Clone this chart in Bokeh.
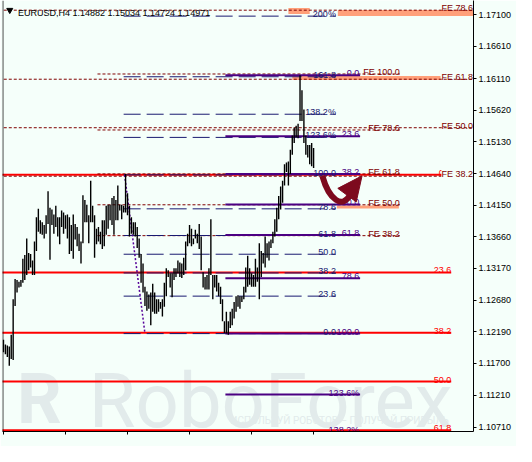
from bokeh.plotting import figure
from bokeh.models import Range1d, LinearAxis, FixedTicker, PrintfTickFormatter, Label, Span
from bokeh.embed import file_html
from bokeh.resources import INLINE
from bokeh.core.properties import value

# ---------------- data ----------------
symbol = "EURUSD,H4"
last_open = 1.14882
last_close = 1.14971

high = [1.12067, 1.11993, 1.11978, 1.11963, 1.12142, 1.12694, 1.13007, 1.12992, 1.12962, 1.12992,
        1.13320, 1.13380, 1.13634, 1.13410, 1.13395, 1.13291, 1.13589, 1.13962, 1.14096, 1.13917,
        1.13887, 1.13843, 1.13992, 1.14365, 1.14111, 1.14081, 1.14007, 1.14141, 1.13962, 1.13962,
        1.14066, 1.14037, 1.13992, 1.14007, 1.13962, 1.13843, 1.14007, 1.13858, 1.13813, 1.13708,
        1.13589, 1.14305, 1.14231, 1.14156, 1.13992, 1.14529, 1.14141, 1.13992, 1.13783, 1.13813,
        1.13738, 1.13917, 1.13917, 1.14141, 1.14156, 1.14156, 1.14260, 1.14290, 1.14231, 1.14454,
        1.14156, 1.14156, 1.14141, 1.14633, 1.14335, 1.14141, 1.13962, 1.13887, 1.13887, 1.13813,
        1.13634, 1.13395, 1.13246, 1.12888, 1.12813, 1.12768, 1.12798, 1.12933, 1.12798, 1.12694,
        1.12694, 1.12649, 1.12694, 1.12948, 1.13171, 1.13141, 1.13097, 1.13097, 1.13171, 1.13171,
        1.13291, 1.13261, 1.13246, 1.13335, 1.13589, 1.13708, 1.13843, 1.13783, 1.13634, 1.13768,
        1.13708, 1.13858, 1.13664, 1.13112, 1.13037, 1.13067, 1.13171, 1.13932, 1.13067, 1.13067,
        1.13067, 1.12948, 1.12888, 1.12694, 1.12351, 1.12500, 1.12351, 1.12500, 1.12545, 1.12649,
        1.12739, 1.12753, 1.12739, 1.12739, 1.12888, 1.13186, 1.13365, 1.13171, 1.13097, 1.13067,
        1.13320, 1.13186, 1.13559, 1.13440, 1.13410, 1.13664, 1.13559, 1.13589, 1.13619, 1.13738,
        1.13932, 1.14111, 1.14290, 1.14439, 1.14529, 1.14783, 1.14812, 1.14827, 1.15006, 1.15230,
        1.15350, 1.15379, 1.15409, 1.16160, 1.15931, 1.15633, 1.15230, 1.15081, 1.15081, 1.15111,
        1.15034]

low = [1.11873, 1.11843, 1.11799, 1.11664, 1.11769, 1.11754, 1.12590, 1.12798, 1.12873, 1.12888,
       1.12948, 1.12992, 1.13067, 1.13141, 1.13186, 1.13067, 1.13067, 1.13440, 1.13738, 1.13708,
       1.13693, 1.13634, 1.13708, 1.13858, 1.13306, 1.13843, 1.13708, 1.13813, 1.13664, 1.13544,
       1.13813, 1.13708, 1.13783, 1.13634, 1.13395, 1.13440, 1.13320, 1.13619, 1.13514, 1.13440,
       1.13246, 1.13559, 1.13887, 1.13887, 1.13559, 1.13887, 1.13887, 1.13335, 1.13544, 1.13589,
       1.13544, 1.13470, 1.13514, 1.13693, 1.13783, 1.13917, 1.13843, 1.13693, 1.13917, 1.13917,
       1.14066, 1.13932, 1.14037, 1.14037, 1.13992, 1.13664, 1.13708, 1.13693, 1.13664, 1.13485,
       1.13335, 1.12948, 1.12798, 1.12590, 1.12515, 1.12545, 1.12291, 1.12500, 1.12470, 1.12470,
       1.12500, 1.12545, 1.12425, 1.12575, 1.12739, 1.13037, 1.12873, 1.12724, 1.12992, 1.13037,
       1.13097, 1.13037, 1.13022, 1.13067, 1.13141, 1.13514, 1.13559, 1.13514, 1.13544, 1.13634,
       1.13559, 1.13470, 1.13141, 1.12873, 1.12843, 1.12843, 1.12843, 1.13067, 1.12694, 1.12873,
       1.12813, 1.12739, 1.12619, 1.12351, 1.12172, 1.12161, 1.12142, 1.12246, 1.12291, 1.12395,
       1.12500, 1.12575, 1.12545, 1.12649, 1.12694, 1.12798, 1.12888, 1.12918, 1.12888, 1.12888,
       1.12888, 1.12962, 1.12694, 1.13037, 1.13246, 1.13186, 1.13335, 1.13291, 1.13485, 1.13559,
       1.13664, 1.13738, 1.13932, 1.14081, 1.14186, 1.14454, 1.14663, 1.14454, 1.14633, 1.14932,
       1.15111, 1.15200, 1.15185, 1.15454, 1.15454, 1.15111, 1.14932, 1.14887, 1.14783, 1.14753,
       1.14724]

date_ticks = [0, 32, 64, 96, 128, 160]
date_labels = ["28 Mar 2016", "5 Apr 04:00", "12 Apr 12:00", "19 Apr 20:00", "27 Apr 04:00", "4 May 12:00"]
price_ticks = [1.17100, 1.16610, 1.16110, 1.15620, 1.15130, 1.14640, 1.14150,
               1.13660, 1.13170, 1.12680, 1.12190, 1.11700, 1.11210, 1.10710]

# Fibonacci retracement (red) : 0% and 100% anchor prices
red_p0, red_p100 = 1.14619, 1.08218
red_ratios = [0.0, 0.236, 0.382, 0.5, 0.618]
red_labels = ["0.0", "23.6", "38.2", "50.0", "61.8"]
# Fibonacci (navy, dashed)
navy_p0, navy_p100 = 1.12161, 1.14619
navy_ratios = [0.0, 0.236, 0.382, 0.5, 0.618, 0.786, 1.0, 1.236, 1.382, 1.618, 2.0]
navy_labels = ["0.0", "23.6", "38.2", "50.0", "61.8", "78.6", "100.0", "123.6%", "138.2%", "161.8", "200%"]
# Fibonacci (purple, thick)
purp_p0, purp_p100 = 1.16160, 1.12161
purp_ratios = [0.0, 0.236, 0.382, 0.5, 0.618, 0.786, 1.0, 1.236, 1.382]
purp_labels = ["0.0", "23.6", "38.2", "50.0", "61.8", "78.6", "100.0", "123.6%", "138.2%"]
# Fibonacci expansions (maroon dotted)
fe1_p0, fe1_p100 = 1.12167, 1.18531
fe1_ratios = [0.382, 0.5, 0.618, 0.786]
fe1_labels = ["FE 38.2", "FE 50.0", "FE 61.8", "FE 78.6"]
fe2_p0, fe2_p100 = 1.12130, 1.16181
fe2_ratios = [0.382, 0.5, 0.618, 0.786, 1.0]
fe2_labels = ["FE 38.2", "FE 50.0", "FE 61.8", "FE 78.6", "FE 100.0"]
# salmon target lines
target_price = [1.17155, 1.17125, 1.16118, 1.14120]
target_from = [147, 172.5, 149, 172]
target_to = [158, 244, 225.5, 204]

# time anchors of the drawings (bar index)
red_x = (-5, 231)
navy_x = (62, 171.5)
purp_x = (114.5, 184)
fe1_x = (-5, 250)
fe2_x = (48.5, 204.5)

# ---------------- styles ----------------
BG = "#F5FFFA"
FONT = value("Liberation Sans")
FS = "9px"
RED = "#FF0000"
NAVY = "#191970"
PURP = "#4B0082"
MAROON = "#800000"
SALMON = "#FFA07A"
ARROW = "#7D0A1E"
WM = "#E2EBEB"

p = figure(width=516, height=446, output_backend="svg", toolbar_location=None,
           x_range=Range1d(-0.5, 242.5), y_range=Range1d(1.10645, 1.17319),
           x_axis_location=None, y_axis_location=None,
           min_border_left=2, min_border_right=43, min_border_top=0, min_border_bottom=15)
p.background_fill_color = BG
p.border_fill_color = BG
p.outline_line_color = None
p.grid.visible = False

yax = LinearAxis(ticker=FixedTicker(ticks=price_ticks), formatter=PrintfTickFormatter(format="%.5f"),
                 major_tick_in=0, major_tick_out=3, minor_tick_in=0, minor_tick_out=0,
                 axis_line_color="black", major_tick_line_color="black",
                 major_label_text_font="Liberation Sans", major_label_text_font_size=FS,
                 major_label_text_color="black", major_label_standoff=2)
p.add_layout(yax, "right")
xax = LinearAxis(ticker=FixedTicker(ticks=[], minor_ticks=date_ticks), major_tick_in=0, major_tick_out=0,
                 minor_tick_in=0, minor_tick_out=3, axis_line_color="black",
                 minor_tick_line_color="black")
p.add_layout(xax, "below")
p.add_layout(Span(location=-0.3, dimension="height", line_color="black", line_width=1))

for t, lab in zip(date_ticks, date_labels):
    p.add_layout(Label(x=t, y=-4, x_units="data", y_units="screen", text=lab, x_offset=0,
                       text_align="left", text_baseline="top", text_font="Liberation Sans",
                       text_font_size=FS, text_color="black"))

# watermark (logo letter, brand name, slogan)
p.text(x=[7], y=[1.11150], text=["R"], text_font=value("Roboto"), text_font_style="bold",
       text_font_size="70px", text_color=WM, text_align="left", text_baseline="alphabetic",
       level="underlay")
p.text(x=[44], y=[1.11120], text=["RoboForex"], text_font=value("Roboto"), text_font_size="76px",
       text_color=WM, text_align="left", text_baseline="alphabetic", level="underlay")
p.text(x=[117], y=[1.10810], text=["ИСПОЛЬЗУЙ РОБОТОВ – ПОЛУЧАЙ ПРИБЫЛЬ"], text_font=value("Roboto"),
       text_font_size="10px", text_color=WM, text_align="left", text_baseline="alphabetic",
       level="underlay")

# salmon targets
p.segment(x0=target_from[:2], x1=target_to[:2], y0=target_price[:2], y1=target_price[:2],
          line_color=SALMON, line_width=6)
p.segment(x0=[target_from[2]], x1=[target_to[2]], y0=[target_price[2]], y1=[target_price[2]],
          line_color=SALMON, line_width=4)
p.segment(x0=[target_from[3]], x1=[target_to[3]], y0=[target_price[3]], y1=[target_price[3]],
          line_color=SALMON, line_width=3)


def levels(p0, p100, ratios):
    return [p0 + r * (p100 - p0) for r in ratios]


def draw_lines(ys, xr, color, width, dash):
    n = len(ys)
    p.segment(x0=[xr[0]] * n, x1=[xr[1]] * n, y0=ys, y1=ys, line_color=color,
              line_width=width, line_dash=dash)


def draw_labels(ys, labels, xlab, color):
    n = len(ys)
    p.text(x=[xlab] * n, y=ys, text=labels, text_align="right", text_baseline="alphabetic",
           text_font=FONT, text_font_size=FS, text_color=color, y_offset=-2)


red_y = levels(red_p0, red_p100, red_ratios)
navy_y = levels(navy_p0, navy_p100, navy_ratios)
purp_y = levels(purp_p0, purp_p100, purp_ratios)
fe1_y = levels(fe1_p0, fe1_p100, fe1_ratios)
fe2_y = levels(fe2_p0, fe2_p100, fe2_ratios)

draw_lines(red_y, red_x, RED, 2, "solid")
draw_lines(fe1_y, fe1_x, MAROON, 1, "3 2")
draw_lines(fe2_y, fe2_x, MAROON, 1, "3 2")
draw_lines(navy_y, navy_x, NAVY, 1, "17 6")
draw_lines(purp_y, purp_x, PURP, 2, "solid")

# anchor line of the navy fibonacci
p.line(x=[62.5, 73], y=[navy_p100, navy_p0], line_color="#550099", line_width=1.5, line_dash="2 2")

# price bars
idx = list(range(len(high)))
p.segment(x0=idx, x1=idx, y0=low, y1=high, line_color="black", line_width=1.4)

draw_labels(red_y, red_labels, red_x[1], RED)
draw_labels(navy_y, navy_labels, navy_x[1], NAVY)
draw_labels(purp_y, purp_labels, purp_x[1] - 0.5, PURP)
draw_labels(fe2_y, fe2_labels, fe2_x[1], MAROON)
draw_labels(fe1_y[1:], fe1_labels[1:], 242.2, MAROON)
p.add_layout(Label(x=242.2, y=fe1_y[0], text=fe1_labels[0], text_align="right",
                   text_baseline="alphabetic", y_offset=2, text_font="Liberation Sans",
                   text_font_size=FS, text_color=MAROON, background_fill_color=BG))

# arrow (drawn object)
arrow_curve = p.bezier(x0=[164.5], y0=[1.14604], x1=[179], y1=[1.14320],
                       cx0=[168], cy0=[1.14230], cx1=[175], cy1=[1.14080],
                       line_color=ARROW, line_width=6)
arrow_curve.level = "overlay"
arrow_head = p.patch(x=[185, 172.5, 182], y=[1.14604, 1.14410, 1.14200], fill_color=ARROW,
                     line_color=ARROW)
arrow_head.level = "overlay"

# title and current price
p.scatter(x=[3.25], y=[1.17170], marker="inverted_triangle", size=6, color="black")
p.add_layout(Label(x=7.5, y=1.17121, text=f"{symbol} {last_open:.5f} {high[-1]:.5f} {low[-1]:.5f} {last_close:.5f}",
                   text_align="left", text_baseline="alphabetic", text_font="Liberation Sans",
                   text_font_size=FS, text_color="black"))
p.add_layout(Label(x=242.5, y=last_close, x_offset=2, text=f"{last_close:.5f}   ", text_align="left",
                   text_baseline="middle", text_font="Liberation Sans", text_font_size=FS,
                   text_color="white", background_fill_color="black", padding=1))

open("out.html", "w").write(file_html(p, INLINE))
